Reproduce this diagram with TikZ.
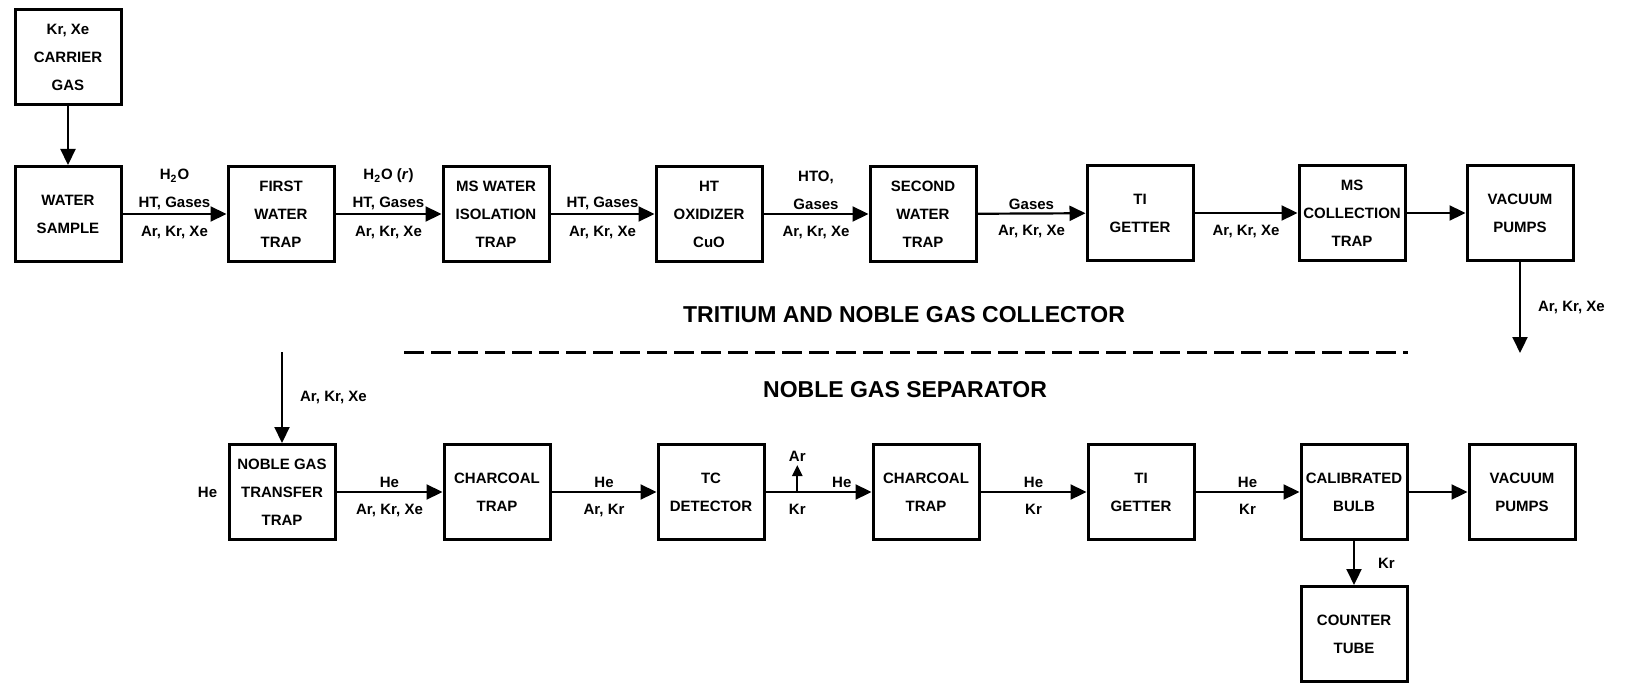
\documentclass[tikz,border=0pt]{standalone}
\usepackage{fontspec}
\setmainfont{Liberation Sans}
\usetikzlibrary{arrows.meta}

\begin{document}
\begin{tikzpicture}[x=0.5pt, y=-0.5pt, >={Triangle[length=8pt, width=7.5pt]},
    font=\bfseries\fontsize{7.5}{14}\selectfont,
    box/.style={draw, line width=1.5pt, minimum width=53pt, minimum height=47.5pt, inner sep=0pt, align=center},
    flow/.style={->, line width=1.1pt},
    lab/.style={inner sep=1.5pt, align=center},
    title/.style={font=\bfseries\fontsize{11.5}{14}\selectfont}]
  \useasboundingbox (0,0) rectangle (1626,684);

  % Tritium and noble gas collector
  \node[box] (carrier) at (68,57) {Kr, Xe\\CARRIER\\GAS};
  \node[box] (sample) at (68,214) {WATER\\SAMPLE};
  \node[box] (trap1) at (281,214) {FIRST\\WATER\\TRAP};
  \node[box] (mstrap) at (496,214) {MS WATER\\ISOLATION\\TRAP};
  \node[box] (oxid) at (709,214) {HT\\OXIDIZER\\CuO};
  \node[box] (trap2) at (923,214) {SECOND\\WATER\\TRAP};
  \node[box] (getter1) at (1140,213) {TI\\GETTER};
  \node[box] (mscoll) at (1352,213) {MS\\COLLECTION\\TRAP};
  \node[box] (pumps1) at (1520,213) {VACUUM\\PUMPS};
  \coordinate (out1) at (1520,353);

  \draw[flow] (carrier) -- (sample);
  \draw[flow] (sample) -- (trap1) node[lab, midway, above] {H\textsubscript{2}O\\HT, Gases} node[lab, midway, below=4pt] {Ar, Kr, Xe};
  \draw[flow] (trap1) -- (mstrap) node[lab, midway, above] {H\textsubscript{2}O (\textit{r})\\HT, Gases} node[lab, midway, below=4pt] {Ar, Kr, Xe};
  \draw[flow] (mstrap) -- (oxid) node[lab, midway, above] {HT, Gases} node[lab, midway, below=4pt] {Ar, Kr, Xe};
  \draw[flow] (oxid) -- (trap2) node[lab, midway, above] {HTO,\\Gases} node[lab, midway, below=4pt] {Ar, Kr, Xe};
  \draw[flow] (trap2) -- (getter1) node[lab, midway, above] {Gases} node[lab, midway, below=4pt] {Ar, Kr, Xe};
  \draw[flow] (getter1) -- (mscoll) node[lab, midway, below=4pt] {Ar, Kr, Xe};
  \draw[flow] (mscoll) -- (pumps1);
  \draw[flow] (pumps1) -- (out1) node[lab, midway, right=7pt] {Ar, Kr, Xe};

  % dividing line
  \node[title] (collector) at (904,315) {TRITIUM AND NOBLE GAS COLLECTOR};
  \coordinate (dashL) at (404,352);
  \coordinate (dashR) at (1408,352);
  \draw[line width=1.5pt, dash pattern=on 10pt off 3.5pt] (dashL) -- (dashR);
  \node[title] (separator) at (905,390) {NOBLE GAS SEPARATOR};

  % Noble gas separator
  \coordinate (in2) at (282,352);
  \node[box] (transfer) at (282,492) {NOBLE GAS\\TRANSFER\\TRAP};
  \node[box] (charcoal1) at (497,492) {CHARCOAL\\TRAP};
  \node[box] (tcd) at (711,492) {TC\\DETECTOR};
  \node[box] (charcoal2) at (926,492) {CHARCOAL\\TRAP};
  \node[box] (getter2) at (1141,492) {TI\\GETTER};
  \node[box] (bulb) at (1354,492) {CALIBRATED\\BULB};
  \node[box] (pumps2) at (1522,492) {VACUUM\\PUMPS};
  \node[box] (counter) at (1354,634) {COUNTER\\TUBE};
  \node[lab, left=3.5pt] (hein) at (transfer.west) {He};

  \draw[flow] (in2) -- (transfer) node[lab, midway, right=7pt] {Ar, Kr, Xe};
  \draw[flow] (transfer) -- (charcoal1) node[lab, midway, above] {He} node[lab, midway, below=4pt] {Ar, Kr, Xe};
  \draw[flow] (charcoal1) -- (tcd) node[lab, midway, above] {He} node[lab, midway, below=4pt] {Ar, Kr};
  \draw[flow] (tcd) -- (charcoal2) coordinate[pos=0.3] (split) node[lab, pos=0.3, below=4pt] {Kr} node[lab, pos=0.72, above] {He};
  \coordinate (arout) at ([yshift=13.5pt]split);
  \draw[-{Triangle[length=5.5pt, width=5pt]}, line width=1.1pt] (split) -- (arout);
  \node[lab, above] (arlab) at (arout) {Ar};
  \draw[flow] (charcoal2) -- (getter2) node[lab, midway, above] {He} node[lab, midway, below=4pt] {Kr};
  \draw[flow] (getter2) -- (bulb) node[lab, midway, above] {He} node[lab, midway, below=4pt] {Kr};
  \draw[flow] (bulb) -- (pumps2);
  \draw[flow] (bulb) -- (counter) node[lab, midway, right=10pt] {Kr};
\end{tikzpicture}
\end{document}
